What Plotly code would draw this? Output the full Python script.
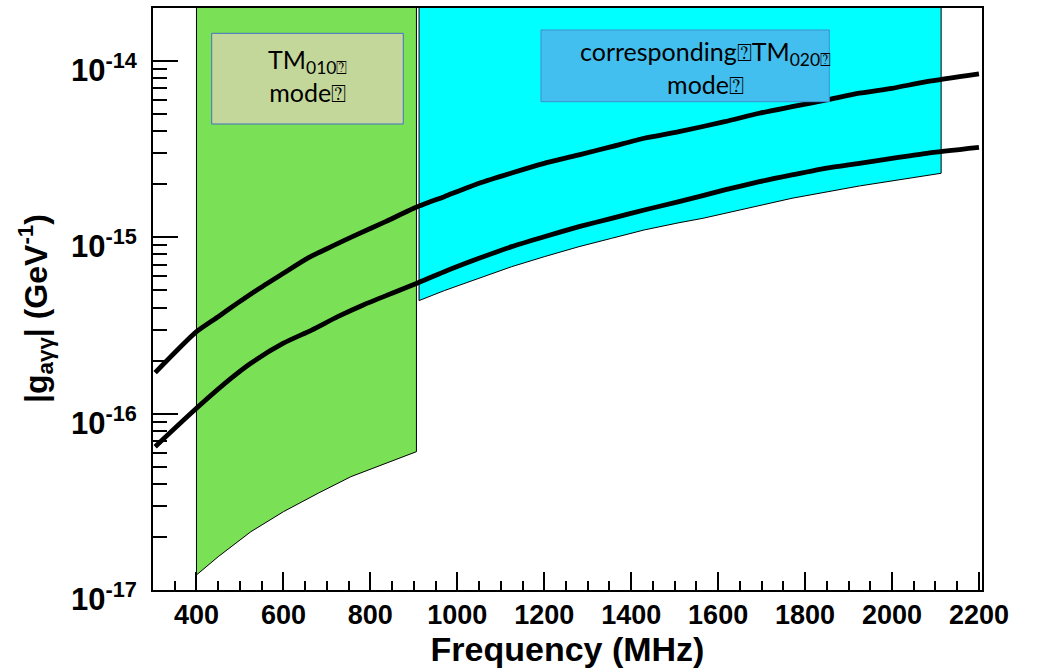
import plotly.graph_objects as go

# Frequency (MHz) and coupling limits |g_aγγ| (GeV^-1) for the two sensitivity curves
upper_freq = [305, 400, 450, 495, 540, 600, 655, 710, 770, 835, 900, 970, 1050, 1125,
              1200, 1280, 1355, 1430, 1510, 1615, 1695, 1770, 1850, 1925, 2000, 2080, 2200]
upper_g = [1.71e-16, 2.92e-16, 3.55e-16, 4.25e-16, 5.05e-16, 6.26e-16, 7.61e-16, 8.86e-16,
           1.04e-15, 1.228e-15, 1.463e-15, 1.702e-15, 2.027e-15, 2.32e-15, 2.63e-15,
           2.94e-15, 3.27e-15, 3.65e-15, 3.98e-15, 4.53e-15, 5.06e-15, 5.51e-15, 6.02e-15,
           6.57e-15, 7.01e-15, 7.64e-15, 8.45e-15]

lower_freq = [305, 400, 480, 525, 600, 665, 725, 785, 850, 910, 970, 1050, 1125, 1200,
              1280, 1355, 1430, 1510, 1615, 1695, 1770, 1850, 1925, 2000, 2080, 2200]
lower_g = [6.50e-17, 1.073e-16, 1.589e-16, 1.932e-16, 2.51e-16, 2.98e-16, 3.55e-16, 4.15e-16,
           4.82e-16, 5.53e-16, 6.39e-16, 7.61e-16, 8.86e-16, 1.009e-15, 1.15e-15, 1.283e-15,
           1.43e-15, 1.594e-15, 1.858e-15, 2.07e-15, 2.26e-15, 2.47e-15, 2.63e-15, 2.81e-15,
           3.00e-15, 3.24e-15]

# TM010 mode region: lower boundary
tm010_freq = [400, 450, 525, 600, 680, 755, 906]
tm010_low = [1.217e-17, 1.545e-17, 2.14e-17, 2.78e-17, 3.54e-17, 4.39e-17, 6.09e-17]

# corresponding TM020 mode region: lower boundary
tm020_freq = [912, 970, 1050, 1125, 1200, 1280, 1355, 1430, 1510, 1565, 1770, 1925, 2113]
tm020_low = [4.38e-16, 4.99e-16, 5.86e-16, 6.82e-16, 7.77e-16, 8.86e-16, 9.88e-16, 1.102e-15,
             1.211e-15, 1.283e-15, 1.667e-15, 1.957e-15, 2.31e-15]

x_ticks = [400, 600, 800, 1000, 1200, 1400, 1600, 1800, 2000, 2200]
y_ticks = [1e-17, 1e-16, 1e-15, 1e-14]
y_tick_text = ["10<sup>-17</sup>", "10<sup>-16</sup>", "10<sup>-15</sup>", "10<sup>-14</sup>"]

BAND_TOP = 1e-13  # regions extend past the top of the frame
X_RANGE = [300, 2207]
Y_LOG_RANGE = [-17, -13.699]

fig = go.Figure()

# Shaded mode regions (open to the top of the frame)
fig.add_trace(go.Scatter(
    x=[tm010_freq[0]] + tm010_freq + [tm010_freq[-1], tm010_freq[0]],
    y=[BAND_TOP] + tm010_low + [BAND_TOP, BAND_TOP],
    fill="toself", fillcolor="#7ae056", mode="lines",
    line=dict(color="black", width=1), hoverinfo="skip", showlegend=False))
fig.add_trace(go.Scatter(
    x=[tm020_freq[0]] + tm020_freq + [tm020_freq[-1], tm020_freq[0]],
    y=[BAND_TOP] + tm020_low + [BAND_TOP, BAND_TOP],
    fill="toself", fillcolor="#00ffff", mode="lines",
    line=dict(color="black", width=1), hoverinfo="skip", showlegend=False))

# Sensitivity curves
for fx, gy in ((upper_freq, upper_g), (lower_freq, lower_g)):
    fig.add_trace(go.Scatter(x=fx, y=gy, mode="lines",
                             line=dict(color="black", width=4.8, shape="spline", smoothing=0.6),
                             showlegend=False))

# Labelled boxes for the two regions
fig.add_shape(type="rect", xref="paper", yref="paper", x0=0.0708, x1=0.3019, y0=0.8007,
              y1=0.9565, fillcolor="#c4d79b", line=dict(color="#4472c4", width=1), layer="above")
fig.add_shape(type="rect", xref="paper", yref="paper", x0=0.4680, x1=0.8158, y0=0.8390,
              y1=0.9622, fillcolor="#42bfee", line=dict(color="#3f8fd0", width=1), layer="above")

box_font = dict(family="Lato, DejaVu Sans", size=25, color="black")
fig.add_annotation(xref="paper", yref="paper", x=0.1864, y=0.8840, xanchor="center",
                   yanchor="middle", showarrow=False, align="center",
                   text="TM<sub>010⍰</sub><br>mode⍰", font=box_font)
fig.add_annotation(xref="paper", yref="paper", x=0.6659, y=0.8986, xanchor="center",
                   yanchor="middle", showarrow=False, align="center",
                   text="corresponding⍰TM<sub>020⍰</sub><br>mode⍰", font=box_font)

axis_font = "Liberation Sans, Arial, Helvetica, sans-serif"

# Vertical axis title, placed slightly below the frame's mid-height
fig.add_annotation(xref="paper", yref="paper", x=-0.141, y=0.483, xanchor="center",
                   yanchor="middle", showarrow=False, textangle=-90,
                   text="|g<sub>aγγ</sub>| (GeV<sup>-1</sup>)",
                   font=dict(family=axis_font, size=32, color="black", weight="bold"))

fig.update_xaxes(
    range=X_RANGE, tickmode="array", tickvals=x_ticks, ticktext=[str(v) for v in x_ticks],
    ticks="inside", ticklen=18, tickwidth=1.5, tickcolor="black",
    minor=dict(dtick=50, tick0=0, ticks="inside", ticklen=9, tickwidth=1.5, tickcolor="black"),
    showline=True, linecolor="black", linewidth=2, mirror=True, showgrid=False, zeroline=False,
    tickfont=dict(family=axis_font, size=27, color="black", weight="bold"),
    title=dict(text="Frequency (MHz)", standoff=8,
               font=dict(family=axis_font, size=34, color="black", weight="bold")),
)

minor_y = [k * 10.0 ** e for e in (-17, -16, -15, -14) for k in range(2, 10)]
fig.update_yaxes(
    type="log", range=Y_LOG_RANGE, tickmode="array", tickvals=y_ticks, ticktext=y_tick_text,
    ticks="inside", ticklen=25, tickwidth=1.5, tickcolor="black",
    minor=dict(tickmode="array", tickvals=minor_y, ticks="inside", ticklen=14, tickwidth=1.5,
               tickcolor="black"),
    showline=True, linecolor="black", linewidth=2, mirror=True, showgrid=False, zeroline=False,
    tickfont=dict(family=axis_font, size=31, color="black", weight="bold"),
    ticklabelstandoff=8, ticklabelshift=9,
)

fig.update_layout(
    width=1038, height=671,
    margin=dict(l=153, r=56, t=8, b=81, autoexpand=False),
    paper_bgcolor="white", plot_bgcolor="white",
    showlegend=False,
)

fig.write_html("out.html")
